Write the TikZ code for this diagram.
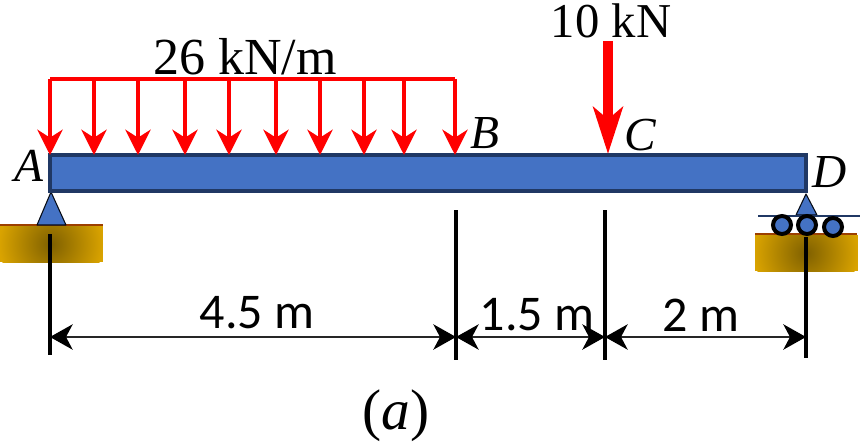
\documentclass[tikz,border=0pt]{standalone}
\usepackage{fontspec}
\setmainfont{Liberation Serif}
\newfontfamily\dimfont{Carlito}
\usetikzlibrary{arrows.meta}

\begin{document}
\begin{tikzpicture}[x=0.75pt,y=-0.75pt]
\tikzstyle{beam} = [draw=beamedge, fill=beamfill, line width=3pt]
\tikzstyle{support} = [draw=black!80!beamedge, fill=beamfill, line width=0.8pt, line join=round]
\tikzstyle{ground} = [inner color=groundmid, outer color=groundout]
\tikzstyle{groundtop} = [draw=groundline, line width=2pt]
\tikzstyle{roller} = [draw=black, fill=beamfill, circle, minimum size=13.5pt, inner sep=0pt, line width=3pt]
\tikzstyle{load} = [red, line width=2.6pt]
\tikzstyle{loadarrow} = [load, -{Stealth[length=19pt,width=19pt,inset=6pt]}]
\tikzstyle{pointload} = [red, line width=7pt, -{Stealth[length=35pt,width=22pt,inset=9pt]}]
\tikzstyle{extline} = [black, line width=2.3pt]
\tikzstyle{dimarrow} = [black!85, line width=1.7pt, {Stealth[length=17pt,width=19pt,inset=5pt,black]}-{Stealth[length=17pt,width=19pt,inset=5pt,black]}]
\tikzstyle{lbl} = [inner sep=0pt, font=\fontsize{36.5}{36.5}\selectfont]
\tikzstyle{pointlbl} = [inner sep=0pt, font=\fontsize{35.5}{35.5}\selectfont\itshape]
\tikzstyle{dimlbl} = [inner sep=0pt, font=\fontsize{37.5}{37.5}\selectfont\dimfont]
\definecolor{beamedge}{HTML}{203864}
\definecolor{beamfill}{HTML}{4472C4}
\definecolor{groundmid}{HTML}{7F6000}
\definecolor{groundout}{HTML}{D9A300}
\definecolor{groundline}{HTML}{9C3F00}

\useasboundingbox (0,0) rectangle (860,442);

% ground blocks
\fill [groundout] (0,225) rectangle (103,262);
\begin{scope}
\clip (0,225) rectangle (103,262);
\shade [ground] (51,244) circle (52);
\end{scope}
\draw [groundtop] (0,225) -- (103,225);
\fill [groundout] (755,235) rectangle (858,271);
\begin{scope}
\clip (755,235) rectangle (858,271);
\shade [ground] (806,253) circle (52);
\end{scope}
\draw [groundtop] (755,234) -- (857,234);

% supports
\draw [support] (51,192) -- (66,225) -- (37,225) -- cycle;
\draw [support] (806,194) -- (817,215) -- (796,215) -- cycle;
\draw [draw=beamedge, line width=2pt] (758,216) -- (860,216);
\node (roll1) [roller] at (782,225) {};
\node (roll2) [roller] at (807,225) {};
\node (roll3) [roller] at (833,227) {};

% beam
\draw [beam] (50,155) rectangle (806,191);

% distributed load
\coordinate (loadA) at (50,79);
\coordinate (loadB) at (455,79);
\draw [load] (loadA) -- (loadB);
\foreach \x in {50,94,138,185,229,276,320,364,404,455}
  \draw [loadarrow] (\x,79) -- (\x,155);

% point load
\coordinate (forcetop) at (608,41);
\coordinate (C) at (608,154);
\draw [pointload] (forcetop) -- (C);

% extension lines
\coordinate (extAt) at (50,234);
\coordinate (extAb) at (50,355);
\coordinate (extBt) at (456,210);
\coordinate (extBb) at (456,360);
\coordinate (extCt) at (605,210);
\coordinate (extCb) at (605,360);
\coordinate (extDt) at (806,237);
\coordinate (extDb) at (806,358);
\draw [extline] (extAt) -- (extAb);
\draw [extline] (extBt) -- (extBb);
\draw [extline] (extCt) -- (extCb);
\draw [extline] (extDt) -- (extDb);

% dimensions
\coordinate (dimA) at (50,337);
\coordinate (dimB) at (456,337);
\coordinate (dimC) at (605,337);
\coordinate (dimD) at (806,337);
\draw [dimarrow] (dimA) -- (dimB);
\draw [dimarrow] (dimB) -- (dimC);
\draw [dimarrow] (dimC) -- (dimD);

% labels
\node (lblload) [lbl, font=\fontsize{39}{39}\selectfont] at (245,57) {26 kN/m};
\node (lblforce) [lbl] at (611,21) {10 kN};
\node (lblA) [pointlbl] at (29,166) {A};
\node (lblB) [pointlbl] at (485,133) {B};
\node (lblC) [pointlbl] at (640,135) {C};
\node (lblD) [pointlbl] at (830,172) {D};
\node (dim1) [dimlbl] at (257,313) {4.5 m};
\node (dim2) [dimlbl] at (537,315) {1.5 m};
\node (dim3) [dimlbl] at (701,315) {2 m};
\node (lblfig) [lbl, font=\fontsize{43}{43}\selectfont] at (396,416) {(\textit{a})};
\end{tikzpicture}
\end{document}
